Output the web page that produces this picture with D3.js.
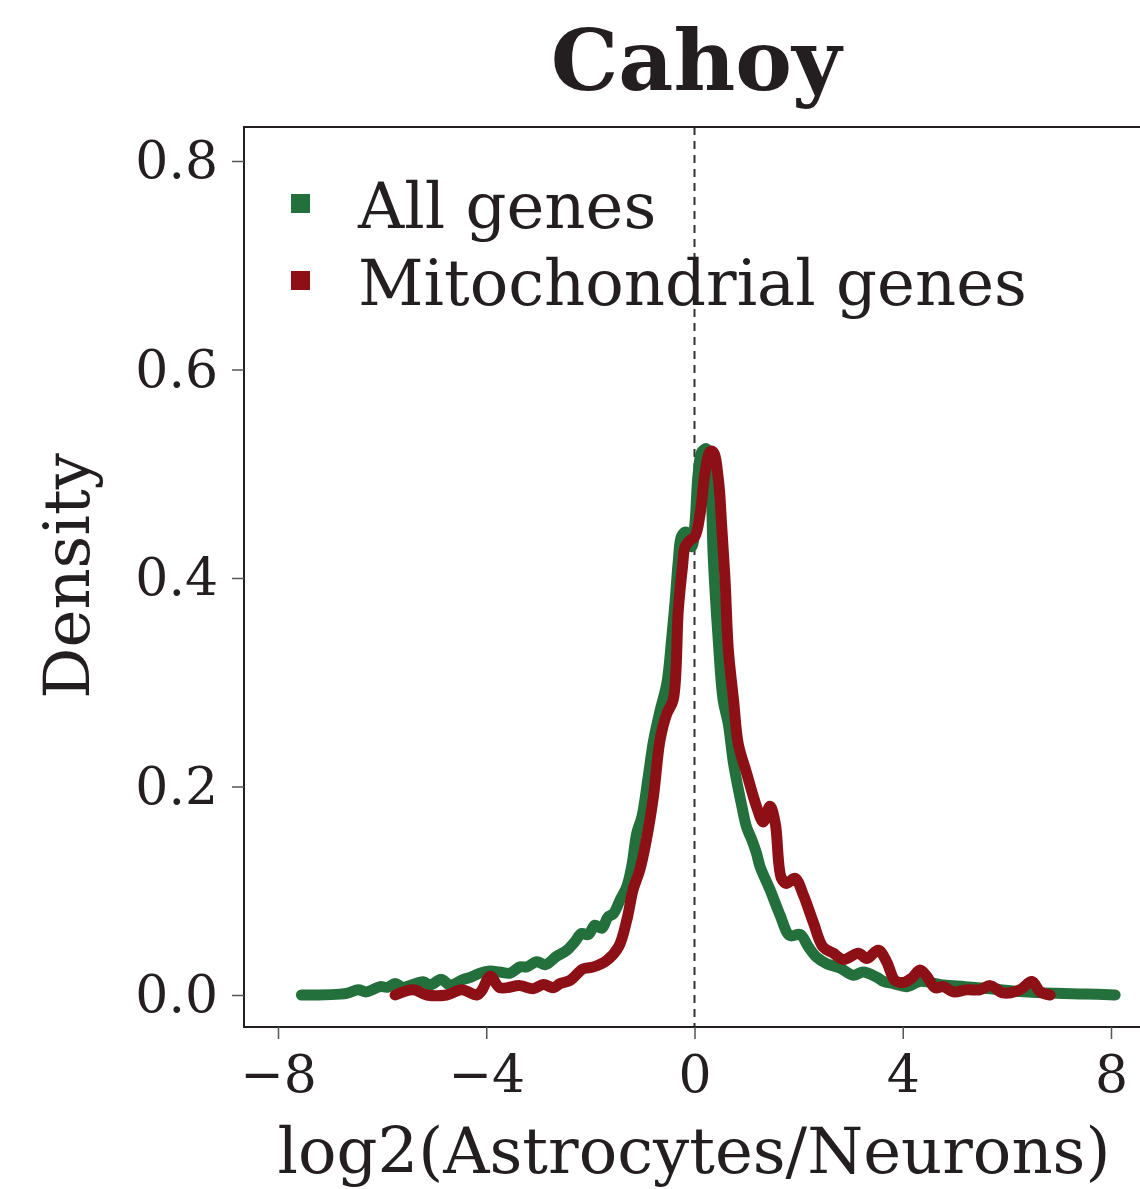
<!DOCTYPE html>
<html>
<head>
<meta charset="utf-8">
<script src="https://cdn.jsdelivr.net/npm/d3@7"></script>
<style>
  html, body { margin: 0; padding: 0; background: #ffffff; }
  svg { display: block; }
  text { font-family: "DejaVu Serif", serif; fill: #231f20; }
</style>
</head>
<body>
<svg id="chart" width="1140" height="1189"></svg>
<script>
// Kernel density estimates of log2(Astrocytes/Neurons), Cahoy dataset
const allGenesX = [-7.55, -6.68, -6.46, -6.30, -6.04, -5.90, -5.75, -5.60, -5.21, -5.08, -4.86, -4.70, -4.44, -4.30, -4.12, -3.93, -3.74, -3.54, -3.35, -3.22, -3.03, -2.87, -2.65, -2.45, -2.30, -2.17, -2.04, -1.91, -1.78, -1.66, -1.56, -1.43, -1.30, -1.20, -1.11, -1.01, -0.89, -0.79, -0.66, -0.53, -0.44, -0.37, -0.31, -0.25, -0.16, -0.05, 0.01, 0.07, 0.14, 0.23, 0.30, 0.36, 0.45, 0.55, 0.65, 0.75, 0.91, 1.00, 1.10, 1.19, 1.26, 1.45, 1.64, 1.83, 2.03, 2.19, 2.35, 2.54, 2.79, 3.05, 3.24, 3.50, 3.63, 3.82, 4.08, 4.33, 4.78, 5.20, 5.68, 6.31, 6.96, 7.50, 8.08];
const allGenesY = [0.000, 0.0016, 0.005, 0.003, 0.008, 0.0074, 0.011, 0.0074, 0.0128, 0.0096, 0.015, 0.0096, 0.015, 0.017, 0.021, 0.023, 0.022, 0.021, 0.027, 0.027, 0.032, 0.029, 0.037, 0.043, 0.051, 0.059, 0.058, 0.067, 0.064, 0.075, 0.078, 0.091, 0.104, 0.125, 0.155, 0.171, 0.209, 0.243, 0.273, 0.299, 0.341, 0.379, 0.417, 0.440, 0.444, 0.430, 0.453, 0.500, 0.521, 0.524, 0.505, 0.420, 0.345, 0.283, 0.260, 0.222, 0.181, 0.161, 0.149, 0.136, 0.123, 0.101, 0.077, 0.057, 0.058, 0.046, 0.036, 0.030, 0.026, 0.019, 0.022, 0.017, 0.013, 0.011, 0.008, 0.013, 0.0096, 0.008, 0.006, 0.003, 0.0016, 0.001, 0.000];

const mitoX = [-5.75, -5.40, -5.14, -4.76, -4.47, -4.18, -4.09, -3.92, -3.74, -3.35, -3.10, -2.90, -2.71, -2.58, -2.39, -2.14, -1.94, -1.69, -1.46, -1.30, -1.18, -1.05, -0.92, -0.79, -0.66, -0.53, -0.41, -0.31, -0.23, -0.18, -0.09, 0.01, 0.11, 0.20, 0.30, 0.36, 0.46, 0.52, 0.59, 0.65, 0.75, 0.84, 1.00, 1.19, 1.32, 1.45, 1.55, 1.67, 1.77, 1.93, 2.09, 2.28, 2.47, 2.67, 2.86, 3.15, 3.31, 3.53, 3.69, 3.85, 4.01, 4.17, 4.33, 4.46, 4.62, 4.78, 4.97, 5.23, 5.48, 5.68, 5.93, 6.25, 6.48, 6.64, 6.83];
const mitoY = [0.000, 0.005, 0.000, 0.000, 0.005, 0.000, 0.004, 0.018, 0.007, 0.009, 0.006, 0.010, 0.007, 0.011, 0.014, 0.025, 0.027, 0.033, 0.046, 0.072, 0.101, 0.120, 0.150, 0.190, 0.245, 0.270, 0.283, 0.370, 0.411, 0.430, 0.436, 0.440, 0.462, 0.500, 0.521, 0.521, 0.494, 0.452, 0.395, 0.331, 0.283, 0.241, 0.213, 0.181, 0.166, 0.181, 0.165, 0.112, 0.107, 0.112, 0.096, 0.070, 0.046, 0.040, 0.034, 0.040, 0.035, 0.043, 0.032, 0.014, 0.012, 0.016, 0.024, 0.018, 0.007, 0.008, 0.003, 0.005, 0.005, 0.009, 0.002, 0.005, 0.013, 0.003, 0.000];

const seriesNames = ["All genes", "Mitochondrial genes"];
const seriesColors = ["#23703d", "#8e1017"];
const xTicks = [-8, -4, 0, 4, 8];
const yTicks = [0.0, 0.2, 0.4, 0.6, 0.8];

const svg = d3.select("#chart");

// plot frame
const frame = { left: 244, top: 127, right: 1146, bottom: 1027 };

const x = d3.scaleLinear().domain([-8, 8]).range([278, 1111]);
const y = d3.scaleLinear().domain([0, 0.8]).range([995, 161]);

// x = 0 reference line
svg.append("line")
  .attr("x1", x(0)).attr("x2", x(0))
  .attr("y1", frame.top).attr("y2", frame.bottom)
  .attr("stroke", "#333")
  .attr("stroke-width", 2)
  .attr("stroke-dasharray", "8,6");

// density curves
const line = d3.line()
  .x(d => x(d[0]))
  .y(d => y(d[1]))
  .curve(d3.curveCatmullRom.alpha(0.5));

const series = [
  d3.zip(allGenesX, allGenesY),
  d3.zip(mitoX, mitoY)
];

series.forEach((pts, i) => {
  svg.append("path")
    .datum(pts)
    .attr("d", line)
    .attr("fill", "none")
    .attr("stroke", seriesColors[i])
    .attr("stroke-width", 11)
    .attr("stroke-linecap", "round")
    .attr("stroke-linejoin", "round");
});

// frame (left, top, bottom spines)
svg.append("path")
  .attr("d", `M${frame.right},${frame.top}H${frame.left}V${frame.bottom}H${frame.right}`)
  .attr("fill", "none")
  .attr("stroke", "#231f20")
  .attr("stroke-width", 2);

// axes
const xAxis = svg.append("g")
  .attr("transform", `translate(0,${frame.bottom})`)
  .call(d3.axisBottom(x).tickValues(xTicks).tickSize(12).tickPadding(16).tickFormat(d3.format("d")));
const yAxis = svg.append("g")
  .attr("transform", `translate(${frame.left},0)`)
  .call(d3.axisLeft(y).tickValues(yTicks).tickSize(12).tickPadding(14).tickFormat(d3.format(".1f")));

[xAxis, yAxis].forEach(g => {
  g.select(".domain").remove();
  g.selectAll(".tick line").attr("stroke", "#555").attr("stroke-width", 1.5);
  g.selectAll(".tick text")
    .attr("font-family", "DejaVu Serif")
    .attr("font-size", 52)
    .attr("fill", "#231f20");
});

// titles
svg.append("text")
  .attr("x", 696).attr("y", 90)
  .attr("text-anchor", "middle")
  .attr("font-size", 85)
  .attr("font-weight", "bold")
  .text("Cahoy");

svg.append("text")
  .attr("x", 694).attr("y", 1173)
  .attr("text-anchor", "middle")
  .attr("font-size", 64)
  .text("log2(Astrocytes/Neurons)");

svg.append("text")
  .attr("transform", "translate(89,576) rotate(-90)")
  .attr("text-anchor", "middle")
  .attr("font-size", 64)
  .text("Density");

// legend
const legend = svg.append("g");
seriesNames.forEach((name, i) => {
  const cy = 204 + i * 77;
  legend.append("rect")
    .attr("x", 291).attr("y", cy - 10)
    .attr("width", 19).attr("height", 19)
    .attr("fill", seriesColors[i]);
  legend.append("text")
    .attr("x", 358).attr("y", cy + 24)
    .attr("font-size", 64)
    .text(name);
});
</script>
</body>
</html>
